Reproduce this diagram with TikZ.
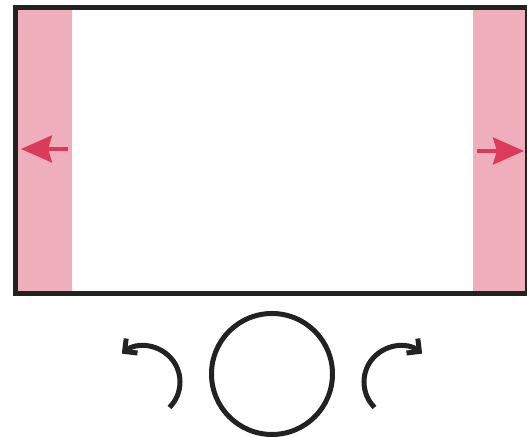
\documentclass[tikz,border=0pt]{standalone}
\usepackage{tikz}
\usetikzlibrary{arrows.meta,calc}
\definecolor{frame}{HTML}{222222}
\definecolor{band}{HTML}{EFAEBB}
\definecolor{pull}{HTML}{DC3A5A}

\begin{document}
\begin{tikzpicture}[x=0.5pt,y=0.5pt]
\useasboundingbox (0,0) rectangle (527,437);
\begin{scope}
\clip (0,0) rectangle (527,437);
\fill[band] (18,146) rectangle (72,427);
\fill[band] (473,146) rectangle (525,427);
\draw[draw=frame, line width=2.5pt] (15.5,143.5) rectangle (527.5,429.5);
\end{scope}
\draw[pull, line width=1.8pt, -{Stealth[length=15.5pt,width=13.5pt,inset=2pt]}] (68,288) -- (21,288);
\draw[pull, line width=1.8pt, -{Stealth[length=15.5pt,width=13.5pt,inset=2pt]}] (477,286) -- (524,286);
\draw[frame, line width=2.5pt] (272,63) circle (60.5);
\draw[frame, line width=2.5pt, -{Straight Barb[angle=90:6.5pt,line join=miter,line cap=butt]}] ($(144,55)+(-45:36)$) arc (-45:128:36);
\draw[frame, line width=2.5pt, -{Straight Barb[angle=90:6.5pt,line join=miter,line cap=butt]}] ($(400,55)+(225:36)$) arc (225:52:36);
\end{tikzpicture}
\end{document}
